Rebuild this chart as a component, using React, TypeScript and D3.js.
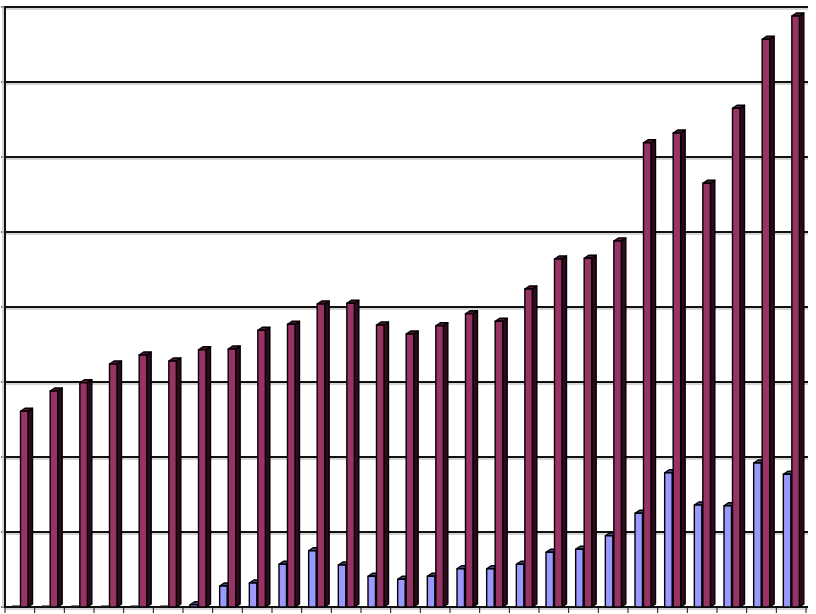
import React from 'react'
import { scaleBand, scaleLinear, range } from 'd3'

// categories (no labels shown on the chart)
const categories = range(1, 28).map(String)
// series, gridline step = 10
const blueValues = [0, 0, 0, 0, 0, 0, 0.3, 2.8, 3.2, 5.7, 7.5, 5.6, 4.1, 3.7, 4.1, 5.1, 5.1, 5.7, 7.3, 7.7, 9.5, 12.5, 17.9, 13.6, 13.5, 19.2, 17.7]
const maroonValues = [26.1, 28.8, 29.9, 32.4, 33.6, 32.8, 34.3, 34.4, 36.9, 37.7, 40.4, 40.5, 37.6, 36.4, 37.5, 39.1, 38.1, 42.4, 46.4, 46.5, 48.8, 61.9, 63.2, 56.5, 66.5, 75.7, 78.8]
const yTicks = [0, 10, 20, 30, 40, 50, 60, 70, 80]

const W = 816
const H = 614
const left = 5
const right = 806
const top = 7
const bottom = 607

const DX = 4.5
const DY = 3
const BW = 7.5

function Bar({ x, v, y, front, side, lid }: any) {
  const y0 = y(0)
  const yt = y(v)
  if (y0 - yt < 0.5) {
    // flat bar on the floor
    return <line x1={x} x2={x + BW + DX} y1={y0 - 1} y2={y0 - 1} stroke="#222" strokeWidth={1.2} />
  }
  const sidePts = [[x + BW, yt], [x + BW + DX, yt - DY], [x + BW + DX, y0 - DY], [x + BW, y0]]
  const lidPts = [[x, yt], [x + DX, yt - DY], [x + BW + DX, yt - DY], [x + BW, yt]]
  return (
    <g stroke="#000" strokeWidth={1.4} strokeLinejoin="round">
      <polygon points={sidePts.map(p => p.join(',')).join(' ')} fill={side} />
      <polygon points={lidPts.map(p => p.join(',')).join(' ')} fill={lid} />
      <rect x={x} y={yt} width={BW} height={y0 - yt} fill={front} />
    </g>
  )
}

export default function App() {
  const x = scaleBand().domain(categories).range([left, right]).paddingInner(0).paddingOuter(0)
  const y = scaleLinear().domain([0, 80]).range([bottom, top])

  return (
    <svg width={W} height={H} style={{ position: 'absolute', left: 0, top: 0, background: '#fff' }}>
      {/* back wall gridlines with a soft shadow */}
      {yTicks.map(t => (
        <g key={t}>
          <line x1={left} x2={right + 2} y1={y(t) + 2} y2={y(t) + 2} stroke="#c8c8c8" strokeWidth={1.5} />
          <line x1={left} x2={right + 2} y1={y(t)} y2={y(t)} stroke="#111" strokeWidth={2} />
          <line x1={1} x2={left} y1={y(t)} y2={y(t)} stroke="#111" strokeWidth={1} />
        </g>
      ))}
      {/* left axis */}
      <line x1={left - 2} x2={left - 2} y1={top} y2={bottom} stroke="#c8c8c8" strokeWidth={1.5} />
      <line x1={left} x2={left} y1={top - 1} y2={bottom + 1} stroke="#111" strokeWidth={2} />
      {/* category ticks */}
      {categories.map(c => (
        <line key={c} x1={x(c)!} x2={x(c)!} y1={bottom} y2={bottom + 6} stroke="#111" strokeWidth={1} />
      ))}
      <line x1={right} x2={right} y1={bottom} y2={bottom + 6} stroke="#111" strokeWidth={1} />

      {categories.map((c, i) => {
        const x0 = x(c)!
        return (
          <g key={c}>
            <Bar x={x0 + 7} v={blueValues[i]} y={y} front="#9999ff" side="#26264f" lid="#4a4a80" />
            <Bar x={x0 + 15.5} v={maroonValues[i]} y={y} front="#993366" side="#2e0a1c" lid="#561836" />
          </g>
        )
      })}
    </svg>
  )
}
